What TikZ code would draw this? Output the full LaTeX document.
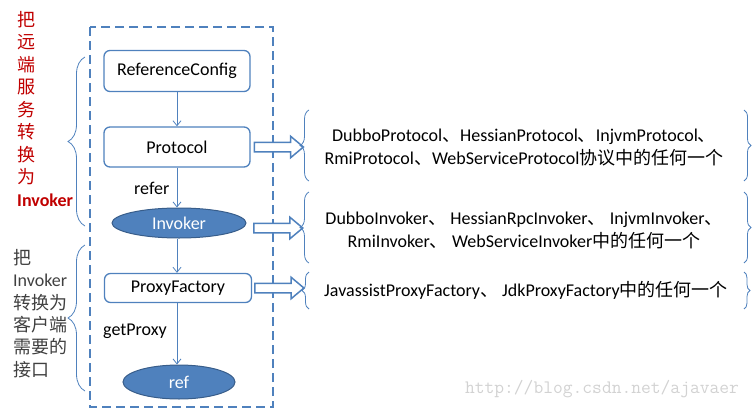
\documentclass[tikz,border=0pt]{standalone}
\usepackage{fontspec}
\setmainfont{Carlito}
\newfontfamily\cjk{Noto Sans CJK SC}
\usetikzlibrary{shapes.geometric,shapes.arrows,decorations.pathreplacing,arrows.meta}
\definecolor{boxblue}{RGB}{79,129,189}
\definecolor{darkblue}{RGB}{56,93,138}
\definecolor{labelred}{RGB}{192,0,0}
\definecolor{labelgray}{RGB}{64,64,64}
\newcommand{\dunhao}{{\cjk 、}}

\begin{document}
\begin{tikzpicture}[x=1pt,y=-1pt,
  box/.style={rectangle,rounded corners=6pt,draw=boxblue,line width=1.3pt,minimum width=146pt,inner sep=0pt,font=\fontsize{18}{20}\selectfont},
  blob/.style={ellipse,draw=darkblue,line width=1pt,fill=boxblue,text=white,inner sep=0pt,font=\fontsize{18}{20}\selectfont},
  flow/.style={draw=boxblue,line width=0.8pt,-{Straight Barb[length=5pt,width=8pt]}},
  fatarrow/.style={single arrow,draw=boxblue,line width=1.5pt,fill=white,inner sep=0pt,inner ysep=4pt,minimum height=49pt,single arrow head extend=6pt,single arrow tip angle=80,anchor=west},
  brace/.style={draw=boxblue,line width=0.8pt,decorate,decoration={brace,amplitude=#1}},
  note/.style={align=center,font=\fontsize{18}{23}\selectfont},
  tag/.style={anchor=west,inner sep=0pt,font=\fontsize{18}{20}\selectfont},
  ]
\useasboundingbox (0,0) rectangle (753,410);

\coordinate (A) at (177,71);
\coordinate (B) at (177,147);
\coordinate (C) at (179,223);
\coordinate (D) at (178,288);
\coordinate (E) at (179,382);
\coordinate (F) at (253,228);
\coordinate (G) at (134,188);
\coordinate (H) at (103,331);

% dashed frame round the chain
\draw[boxblue,line width=1.5pt,dash pattern=on 9pt off 5pt] (90,27) rectangle (273,407);

\node[box,minimum height=41pt] (rc) at (A) {ReferenceConfig};
\node[box,minimum height=40pt] (proto) at (B) {Protocol};
\node[blob,minimum width=134pt,minimum height=30pt] (invk) at (C) {Invoker};
\node[box,minimum width=147pt,minimum height=29pt] (pfac) at (D) {ProxyFactory};
\node[blob,minimum width=112pt,minimum height=34pt] (refn) at (E) {ref};
\node[tag] (referlbl) at (G) {refer};
\node[tag] (getlbl) at (H) {getProxy};

\draw[flow] (rc.south) -- (rc.south |- proto.north);
\draw[flow] (proto.south) -- (proto.south |- invk.north);
\draw[flow] (proto.south |- invk.south) -- (proto.south |- pfac.north);
\draw[flow] (proto.south |- pfac.south) -- (proto.south |- refn.north);

% hollow arrows to the lists
\node[fatarrow] (arP) at ([xshift=3pt]proto.east) {};
\node[fatarrow] (arI) at (F) {};
\node[fatarrow] (arF) at ([xshift=2pt]pfac.east) {};

% right hand lists
\draw[brace=9pt] (309,181) -- (309,110);
\draw[brace=7pt] (744,110) -- (744,181);
\node[note] (protolist) at (524,148) {DubboProtocol\dunhao HessianProtocol\dunhao InjvmProtocol\dunhao\\RmiProtocol\dunhao WebServiceProtocol{\cjk 协议中的任何一个}};

\draw[brace=9pt] (309,263) -- (309,192);
\draw[brace=7pt] (744,192) -- (744,263);
\node[note] (invklist) at (524,230) {DubboInvoker\dunhao{} HessianRpcInvoker\dunhao{} InjvmInvoker\dunhao\\RmiInvoker\dunhao{} WebServiceInvoker{\cjk 中的任何一个}};

\draw[brace=7pt] (309,309) -- (309,272);
\draw[brace=6pt] (744,272) -- (744,309);
\node[note] (pfaclist) at (526,290) {JavassistProxyFactory\dunhao{} JdkProxyFactory{\cjk 中的任何一个}};

% left hand notes
\draw[brace=17pt] (85,226) -- (85,57);
\draw[brace=17pt] (85,391) -- (85,245);
\node[anchor=north west,inner sep=0pt,align=left,text=labelred,font=\cjk\fontsize{18}{22.5}\selectfont] (leftup) at (17,11)
  {把\\远\\端\\服\\务\\转\\换\\为\\{\fontspec{Carlito}\bfseries Invoker}};
\node[anchor=north west,inner sep=0pt,align=left,text=labelgray,font=\cjk\fontsize{18}{22.4}\selectfont] (leftdown) at (13,249)
  {把\\{\fontspec{Carlito}Invoker}\\转换为\\客户端\\需要的\\接口};

\node[text=gray!35,font=\ttfamily\fontsize{19}{20}\selectfont] (mark) at (602,389) {http://blog.csdn.net/ajavaer};
\end{tikzpicture}
\end{document}
